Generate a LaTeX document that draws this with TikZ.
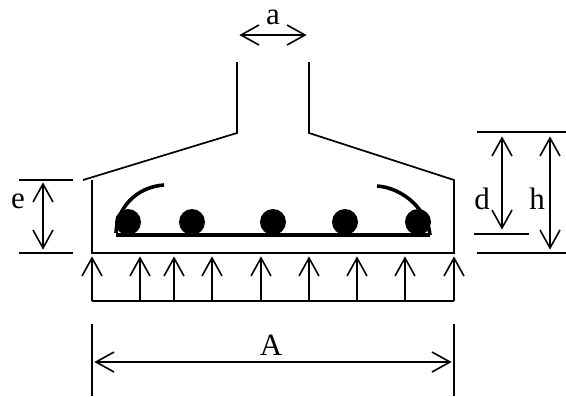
\documentclass[tikz,border=0pt]{standalone}
\usepackage{fontspec}
\setmainfont{Liberation Serif}
\pgfarrowsdeclare{openbarb}{openbarb}
{\pgfarrowsleftextend{-18pt}\pgfarrowsrightextend{0pt}}
{\pgfsetmiterjoin
 \pgfpathmoveto{\pgfpoint{-18pt}{10pt}}
 \pgfpathlineto{\pgfpoint{0pt}{0pt}}
 \pgfpathlineto{\pgfpoint{-18pt}{-10pt}}
 \pgfusepathqstroke}
\tikzset{>=openbarb}
\tikzset{outline/.style={line width=1.7pt},
  dimline/.style={line width=1.6pt},
  rebar/.style={line width=3.6pt},
  bardot/.style={fill=black,draw=none,circle,minimum size=26pt,inner sep=0pt},
  dimlabel/.style={font=\fontsize{31}{31}\selectfont,inner sep=0pt}}
\begin{document}
\begin{tikzpicture}[x=1pt,y=-1pt]
\useasboundingbox (0,0) rectangle (566,397);
% footing
\draw[outline] (237,62) -- (237,133) -- (83,180);
\draw[outline] (309,62) -- (309,133) -- (454,180) -- (454,253) -- (92,253) -- (92,180);
% reinforcement
\foreach \name/\xpos in {b1/128,b2/192,b3/273,b4/345,b5/418}
  \node[bardot] (\name) at (\xpos,222) {};
\draw[rebar] (116,235) -- (430,235);
\draw[rebar] (164,185) .. controls (136,187) and (117,208) .. (116,233);
\draw[rebar] (377,186) .. controls (405,188) and (428,212) .. (430,235);
% soil pressure
\draw[outline] (92,301) -- (454,301);
\foreach \xpos in {92,140,174,212,261,309,357,405,454}
  \draw[->,dimline] (\xpos,301) -- (\xpos,258);
% dimensions
\draw[dimline] (19,180) -- (73,180) (19,253) -- (73,253);
\draw[<->,dimline] (43,184) -- (43,248);
\node[dimlabel] (e) at (18,201) {e};
\draw[dimline] (477,132) -- (566,132) (477,253) -- (566,253) (474,234) -- (529,234);
\draw[<->,dimline] (502,138) -- (502,228);
\draw[<->,dimline] (550,138) -- (550,248);
\node[dimlabel] (d) at (482,199) {d};
\node[dimlabel] (h) at (537,199) {h};
\draw[dimline] (92,324) -- (92,396) (454,324) -- (454,396);
\draw[<->,dimline] (96,362) -- (450,362);
\node[dimlabel] (A) at (271,345) {A};
\draw[<->,dimline] (241,35) -- (305,35);
\node[dimlabel] (a) at (273,17) {a};
\end{tikzpicture}
\end{document}
